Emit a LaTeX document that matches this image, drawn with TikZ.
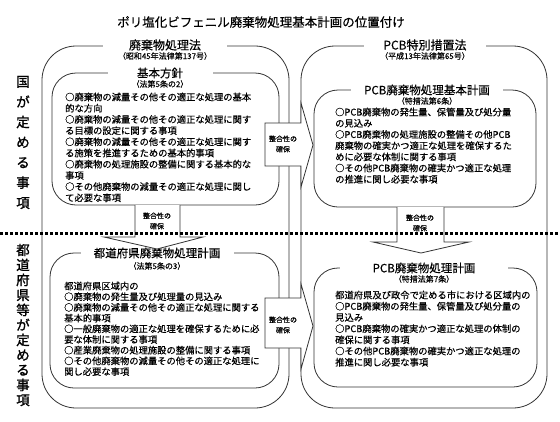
\documentclass[tikz,border=0pt]{standalone}
\usepackage{fontspec}
\setmainfont{Noto Sans CJK JP}[FakeBold=0.35]
\newfontfamily\sidefont{Noto Sans CJK JP}[FakeBold=1.2]
\usetikzlibrary{calc}
\begin{document}
\begin{tikzpicture}[x=1pt,y=-1pt,
  frameline/.style={draw=black!80, line width=0.8pt},
  outerbox/.style={frameline, rounded corners=34pt, inner sep=0pt},
  innerbox/.style={frameline, rounded corners=24pt, inner sep=0pt},
  hdr/.style={fill=white, inner xsep=0pt, inner ysep=0pt, font=\fontsize{12}{13}\selectfont},
  ihdr/.style={fill=white, inner xsep=0pt, inner ysep=0pt, font=\fontsize{11.5}{13}\selectfont},
  subhdr/.style={inner sep=0pt, font=\fontsize{8}{9}\selectfont},
  body/.style={anchor=north west, inner sep=0pt, align=left, font=\fontsize{9.3}{11.2}\selectfont},
  blockarrow/.style={frameline, fill=white, line join=miter},
  arrowtext/.style={inner sep=0pt, align=center, font=\fontsize{7}{10.5}\selectfont},
  sidelabel/.style={inner sep=0pt, align=center},
  divider/.style={draw=black, line width=3pt, dash pattern=on 3pt off 2pt}
]
\useasboundingbox (0,0) rectangle (560,421);
\fill[white] (0,0) rectangle (560,421);

% title
\node[inner sep=0pt, font=\fontsize{12.5}{14}\selectfont] (title) at (261,22) {ポリ塩化ビフェニル廃棄物処理基本計画の位置付け};

% frames
\node[outerbox, minimum width=247pt, minimum height=362pt] (oL) at (165.5,227) {};
\node[outerbox, minimum width=246pt, minimum height=362pt] (oR) at (424,227) {};
\node[innerbox, minimum width=227pt, minimum height=132pt] (iL1) at (165.5,139) {};
\node[innerbox, minimum width=222pt, minimum height=117pt] (iR1) at (425,148.5) {};
\node[innerbox, minimum width=229pt, minimum height=135pt] (iL2) at (164.5,320.5) {};
\node[innerbox, minimum width=223pt, minimum height=119pt] (iR2) at (425.5,327.5) {};

% headers (white fill breaks the frame line)
\node[hdr, minimum width=124pt] (hoL) at (165,45) {廃棄物処理法};
\node[subhdr] (soL) at (165,56) {（昭和45年法律第137号）};
\node[hdr, minimum width=122pt] (hoR) at (425,45) {PCB特別措置法};
\node[subhdr] (soR) at (425,56) {（平成13年法律第65号）};

\node[ihdr, minimum width=105pt] (hL1) at (160,73) {基本方針};
\node[subhdr] (sL1) at (160,84) {（法第5条の2）};
\node[ihdr, minimum width=152pt] (hR1) at (427,90) {PCB廃棄物処理基本計画};
\node[subhdr] (sR1) at (427,101) {（特措法第6条）};
\node[ihdr, minimum width=153pt] (hL2) at (157,253) {都道府県廃棄物処理計画};
\node[subhdr] (sL2) at (157,266) {（法第5条の3）};
\node[ihdr, minimum width=168pt] (hR2) at (424,268) {PCB廃棄物処理計画};
\node[subhdr] (sR2) at (424,279) {（特措法第7条）};

% block arrows
\draw[blockarrow] (265,123) -- (301,123) -- (301,103) -- (313,145) -- (301,187) -- (301,166) -- (265,166) -- cycle;
\draw[blockarrow] (265,298) -- (301,298) -- (301,284) -- (313,326) -- (301,369) -- (301,348) -- (265,348) -- cycle;
\draw[blockarrow] (135,205) -- (135,237) -- (104,237) -- (157,249) -- (203,237) -- (180,237) -- (180,205);
\draw[blockarrow] (397,207) -- (397,242) -- (373,242) -- (421,253) -- (469,242) -- (444,242) -- (444,207);

\node[arrowtext] (aH1) at (283,144) {整合性の\\確保};
\node[arrowtext] (aH2) at (283,325) {整合性の\\確保};
\node[arrowtext] (aV1) at (157,221) {整合性の\\確保};
\node[arrowtext] (aV2) at (420,223) {整合性の\\確保};

% divider
\draw[divider] (0,233) -- (560,233);

% side labels
\node[sidelabel, font=\sidefont\fontsize{13.5}{20.2}\selectfont] (sideTop) at (23,142.5) {国\\が\\定\\め\\る\\事\\項};
\node[sidelabel, font=\sidefont\fontsize{13.5}{15}\selectfont] (sideBot) at (23,325) {都\\道\\府\\県\\等\\が\\定\\め\\る\\事\\項};

% body texts
\node[body] (tL1) at (65,92.5) {○廃棄物の減量その他その適正な処理の基本\\的な方向\\○廃棄物の減量その他その適正な処理に関す\\る目標の設定に関する事項\\○廃棄物の減量その他その適正な処理に関す\\る施策を推進するための基本的事項\\○廃棄物の処理施設の整備に関する基本的な\\事項\\○その他廃棄物の減量その適正な処理に関し\\て必要な事項};
\node[body] (tR1) at (335,107.5) {○PCB廃棄物の発生量、保管量及び処分量\\の見込み\\○PCB廃棄物の処理施設の整備その他PCB\\廃棄物の確実かつ適正な処理を確保するた\\めに必要な体制に関する事項\\○その他PCB廃棄物の確実かつ適正な処理\\の推進に関し必要な事項};
\node[body, font=\fontsize{9.3}{10.7}\selectfont] (tL2) at (64,281.5) {都道府県区域内の\\○廃棄物の発生量及び処理量の見込み\\○廃棄物の減量その他その適正な処理に関する\\基本的事項\\○一般廃棄物の適正な処理を確保するために必\\要な体制に関する事項\\○産業廃棄物の処理施設の整備に関する事項\\○その他廃棄物の減量その他その適正な処理に\\関し必要な事項};
\node[body] (tR2) at (335,290.5) {都道府県及び政令で定める市における区域内の\\○PCB廃棄物の発生量、保管量及び処分量の\\見込み\\○PCB廃棄物の確実かつ適正な処理の体制の\\確保に関する事項\\○その他PCB廃棄物の確実かつ適正な処理の\\推進に関し必要な事項};
\end{tikzpicture}
\end{document}
